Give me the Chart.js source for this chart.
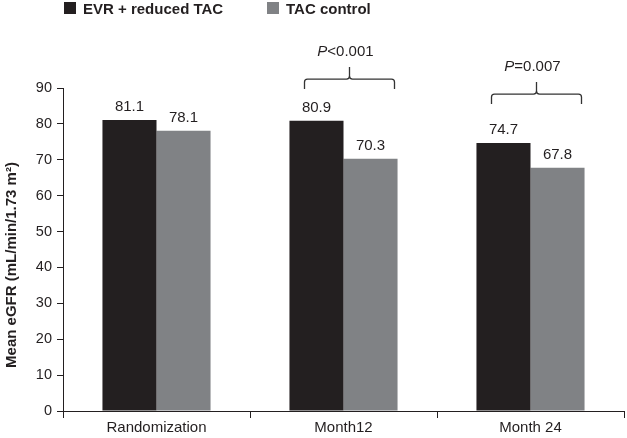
<!DOCTYPE html>
<html>
<head>
<meta charset="utf-8">
<script src="https://cdn.jsdelivr.net/npm/chart.js@4.4.1/dist/chart.umd.min.js"></script>
<style>
  html, body { margin: 0; padding: 0; background: #ffffff; }
  #c { display: block; }
</style>
</head>
<body>
<canvas id="c" width="627" height="438"></canvas>
<script>
// ---- data ----
const categories = ["Randomization", "Month12", "Month 24"];
const seriesNames = ["EVR + reduced TAC", "TAC control"];
const evrValues = [81.1, 80.9, 74.7];
const tacValues = [78.1, 70.3, 67.8];
const yTicks = [0, 10, 20, 30, 40, 50, 60, 70, 80, 90];
const yTitle = "Mean eGFR (mL/min/1.73 m\u00B2)";
const bracketPrefix = ["", "P", "P"];
const bracketSuffix = ["", "<0.001", "=0.007"];
const bracketLevels = [null, 92.5, 88.3];

const colors = ["#231f20", "#808285"];
const textColor = "#231f20";
const FONT = "'Liberation Sans', Arial, Helvetica, sans-serif";

const overlay = {
  id: "overlay",
  afterDatasetsDraw(chart) {
    const ctx = chart.ctx;
    const x = chart.scales.x, y = chart.scales.y;
    ctx.save();
    // value labels
    ctx.fillStyle = textColor;
    ctx.font = "15px " + FONT;
    ctx.textAlign = "center";
    ctx.textBaseline = "alphabetic";
    chart.data.datasets.forEach((ds, di) => {
      const meta = chart.getDatasetMeta(di);
      meta.data.forEach((bar, i) => {
        ctx.fillText(ds.data[i].toFixed(1), bar.x, bar.y - 9);
      });
    });
    // brackets
    ctx.strokeStyle = "#333333";
    ctx.lineWidth = 1.3;
    bracketLevels.forEach((lvl, i) => {
      if (lvl === null) return;
      const c = x.getPixelForValue(i);
      const l = c - 39, r = c + 51, m = c + 6;
      const h = y.getPixelForValue(lvl);
      const e = h + 10, p = h - 12;
      ctx.beginPath();
      ctx.moveTo(l, e);
      ctx.lineTo(l, h + 3);
      ctx.quadraticCurveTo(l, h, l + 3, h);
      ctx.lineTo(m - 3, h);
      ctx.quadraticCurveTo(m, h, m, h - 3);
      ctx.lineTo(m, p);
      ctx.moveTo(m, h - 3);
      ctx.quadraticCurveTo(m, h, m + 3, h);
      ctx.lineTo(r - 3, h);
      ctx.quadraticCurveTo(r, h, r, h + 3);
      ctx.lineTo(r, e);
      ctx.stroke();
      // label
      ctx.textBaseline = "middle";
      ctx.textAlign = "left";
      ctx.font = "italic 15px " + FONT;
      const w1 = ctx.measureText(bracketPrefix[i]).width;
      ctx.font = "15px " + FONT;
      const w2 = ctx.measureText(bracketSuffix[i]).width;
      const tx = c + 2 - (w1 + w2) / 2;
      const ty = h - 27;
      ctx.font = "italic 15px " + FONT;
      ctx.fillText(bracketPrefix[i], tx, ty);
      ctx.font = "15px " + FONT;
      ctx.fillText(bracketSuffix[i], tx + w1, ty);
    });
    // legend
    ctx.textAlign = "left";
    ctx.textBaseline = "alphabetic";
    ctx.font = "bold 15px " + FONT;
    const legX = [64, 267];
    seriesNames.forEach((n, i) => {
      ctx.fillStyle = colors[i];
      ctx.fillRect(legX[i], 2, 12, 12);
      ctx.fillStyle = textColor;
      ctx.fillText(n, legX[i] + 19, 14);
    });
    // y axis title
    ctx.save();
    ctx.translate(16, 265);
    ctx.rotate(-Math.PI / 2);
    ctx.textAlign = "center";
    ctx.font = "bold 15px " + FONT;
    ctx.fillText(yTitle, 0, 0);
    ctx.restore();
    ctx.restore();
  }
};

new Chart(document.getElementById("c"), {
  type: "bar",
  data: {
    labels: categories,
    datasets: [
      { label: seriesNames[0], data: evrValues, backgroundColor: colors[0] },
      { label: seriesNames[1], data: tacValues, backgroundColor: colors[1] }
    ]
  },
  options: {
    responsive: false,
    animation: false,
    devicePixelRatio: 1,
    layout: { padding: { top: 88, right: 3, bottom: 0, left: 0 } },
    plugins: { legend: { display: false }, tooltip: { enabled: false } },
    datasets: { bar: { barPercentage: 1.0, categoryPercentage: 0.578 } },
    scales: {
      x: {
        afterFit(s) { s.height = 27; },
        grid: { display: true, drawOnChartArea: false, drawTicks: true, tickLength: 7, color: textColor, offset: true },
        border: { display: true, color: textColor, width: 1 },
        ticks: { color: textColor, font: { family: FONT, size: 15 }, padding: 1 }
      },
      y: {
        min: 0, max: 90,
        afterBuildTicks(s) { s.ticks = yTicks.map(v => ({ value: v })); },
        afterFit(s) { s.width = 63; },
        grid: { display: true, drawOnChartArea: false, drawTicks: true, tickLength: 6, color: textColor },
        border: { display: true, color: textColor, width: 1 },
        ticks: { color: textColor, font: { family: FONT, size: 14.5 }, padding: 5 }
      }
    }
  },
  plugins: [overlay]
});
</script>
</body>
</html>
